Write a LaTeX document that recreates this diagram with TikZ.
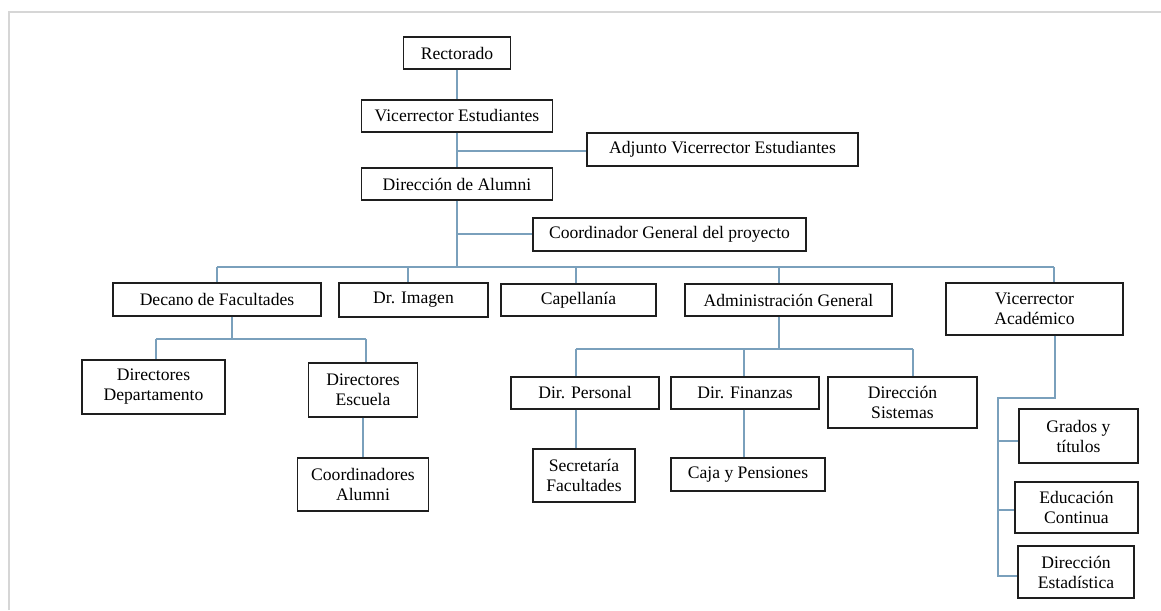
\documentclass[tikz,border=0pt]{standalone}
\usepackage{fontspec}
\setmainfont{Liberation Serif}
\definecolor{connc}{RGB}{122,160,188}
\definecolor{framec}{RGB}{214,214,214}
\definecolor{boxline}{RGB}{30,30,30}
\begin{document}
\begin{tikzpicture}[x=1pt,y=-1pt,
  box/.style={draw=boxline, line width=1.1pt, fill=white, inner sep=0pt, align=center,
    font=\fontsize{17.6}{20}\selectfont},
  conn/.style={draw=connc, line width=1.3pt}]
\useasboundingbox (0,0) rectangle (1161,610);
\draw[framec, line width=1.5pt] (9,610) -- (9,12) -- (1161,12);

% nodes
\node[box, minimum width=107pt, minimum height=32pt] (rect) at (457,53) {Rectorado};
\node[box, minimum width=191pt, minimum height=32pt] (vest) at (457,116) {Vicerrector Estudiantes};
\node[box, minimum width=271pt, minimum height=33pt] (adj) at (722.5,149.5) {Adjunto Vicerrector Estudiantes};
\node[box, minimum width=191pt, minimum height=32pt] (alum) at (457,184) {Dirección de Alumni};
\node[box, minimum width=273pt, minimum height=33pt] (coord) at (669.5,234.5) {Coordinador General del proyecto};

\node[box, minimum width=208pt, minimum height=33pt] (dec) at (217,299.5) {Decano de Facultades};
\node[box, minimum width=149pt, minimum height=34pt] (img) at (413.5,300) {Dr. Imagen};
\node[box, minimum width=155pt, minimum height=32pt] (cap) at (578.5,300) {Capellanía};
\node[box, minimum width=207pt, minimum height=32pt] (adm) at (788.5,300) {Administración General};
\node[box, minimum width=177pt, minimum height=52pt] (va) at (1034.5,309) {Vicerrector\\Académico};

\node[box, minimum width=143pt, minimum height=54pt] (ddep) at (153.5,387) {Directores\\Departamento};
\node[box, minimum width=109pt, minimum height=54pt] (desc) at (363,390) {Directores\\Escuela};
\node[box, minimum width=131pt, minimum height=53pt] (calum) at (363,484.5) {Coordinadores\\Alumni};

\node[box, minimum width=148pt, minimum height=32pt] (dper) at (585,393) {Dir. Personal};
\node[box, minimum width=148pt, minimum height=32pt] (dfin) at (745,393) {Dir. Finanzas};
\node[box, minimum width=149pt, minimum height=51pt] (dsis) at (902.5,402.5) {Dirección\\Sistemas};
\node[box, minimum width=102pt, minimum height=53pt] (sec) at (584,475.5) {Secretaría\\Facultades};
\node[box, minimum width=154pt, minimum height=33pt] (caja) at (748,474.5) {Caja y Pensiones};

\node[box, minimum width=119pt, minimum height=54pt] (gra) at (1078.5,436) {Grados y\\títulos};
\node[box, minimum width=123pt, minimum height=51pt] (edu) at (1076.5,507.5) {Educación\\Continua};
\node[box, minimum width=116pt, minimum height=52pt] (est) at (1076,572) {Dirección\\Estadística};

% junction coordinates
\coordinate (j1) at (457,151);
\coordinate (j2) at (457,234);
\coordinate (b0) at (457,267);
\coordinate (busL) at (217,267);
\coordinate (b2) at (408,267);
\coordinate (b3) at (576,267);
\coordinate (b4) at (779,267);
\coordinate (busR) at (1054,267);
\coordinate (d0) at (232,339);
\coordinate (dL) at (156,339);
\coordinate (dR) at (366,339);
\coordinate (a0) at (779,349);
\coordinate (aL) at (576,349);
\coordinate (aM) at (744,349);
\coordinate (aR) at (913,349);
\coordinate (v0) at (1055,398);
\coordinate (v1) at (998,398);
\coordinate (g1) at (998,441);
\coordinate (e1) at (998,510);
\coordinate (v2) at (998,576);

% connectors
\begin{scope}[on background layer/.style={}]
\draw[conn] (rect.south) -- (vest.north);
\draw[conn] (vest.south) -- (alum.north);
\draw[conn] (j1) -- (j1 -| adj.west);
\draw[conn] (alum.south) -- (b0);
\draw[conn] (j2) -- (j2 -| coord.west);
\draw[conn] (busL) -- (busR);
\draw[conn] (busL) -- (busL |- dec.north);
\draw[conn] (b2) -- (b2 |- img.north);
\draw[conn] (b3) -- (b3 |- cap.north);
\draw[conn] (b4) -- (b4 |- adm.north);
\draw[conn] (busR) -- (busR |- va.north);

\draw[conn] (d0 |- dec.south) -- (d0);
\draw[conn] (dL) -- (dR);
\draw[conn] (dL) -- (dL |- ddep.north);
\draw[conn] (dR) -- (dR |- desc.north);
\draw[conn] (desc.south) -- (calum.north);

\draw[conn] (a0 |- adm.south) -- (a0);
\draw[conn] (aL) -- (aR);
\draw[conn] (aL) -- (aL |- dper.north);
\draw[conn] (aM) -- (aM |- dfin.north);
\draw[conn] (aR) -- (aR |- dsis.north);
\draw[conn] (aL |- dper.south) -- (aL |- sec.north);
\draw[conn] (aM |- dfin.south) -- (aM |- caja.north);

\draw[conn] (v0 |- va.south) -- (v0) -- (v1) -- (v2) -- (v2 -| est.west);
\draw[conn] (g1) -- (g1 -| gra.west);
\draw[conn] (e1) -- (e1 -| edu.west);
\end{scope}
\end{tikzpicture}
\end{document}
